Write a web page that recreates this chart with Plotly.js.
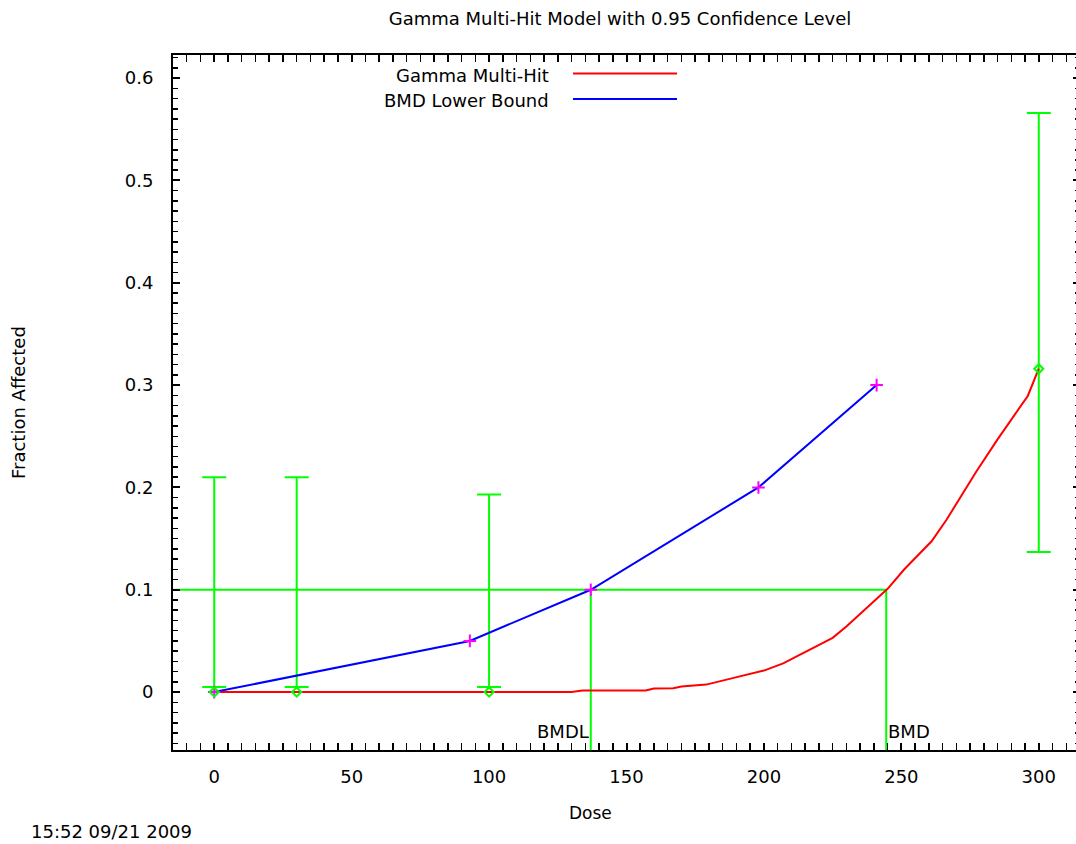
<!DOCTYPE html>
<html>
<head>
<meta charset="utf-8">
<script src="https://cdn.plot.ly/plotly-3.0.1.min.js"></script>
<style>
html,body{margin:0;padding:0;overflow:hidden;background:#fff;}
#chart{width:1082px;height:844px;}
</style>
</head>
<body>
<div id="chart"></div>
<script>
// ---- data ----
const modelDose = [0, 130, 134, 157, 160, 167, 170, 179, 189, 200, 207, 218, 225, 230, 234, 245, 251, 257, 261, 266.5, 271, 277, 285, 291, 296, 300];
const modelFrac = [0, 0, 0.0015, 0.0015, 0.0034, 0.0037, 0.0054, 0.0073, 0.0139, 0.021, 0.028, 0.043, 0.053, 0.064, 0.074, 0.1009, 0.1198, 0.1361, 0.1474, 0.1687, 0.1883, 0.2144, 0.247, 0.2698, 0.2894, 0.316];

const lowerDose = [0, 93, 137, 198, 241];
const lowerFrac = [0, 0.05, 0.1, 0.2, 0.3];

const obsDose = [0, 30, 100, 300];
const obsFrac = [0, 0, 0, 0.316];
const ciLow = [0.005, 0.005, 0.005, 0.137];
const ciHigh = [0.21, 0.21, 0.193, 0.566];

const bmr = 0.1;
const bmd = 244.5;
const bmdl = 137;

const xRange = [-15, 315];
const yRange = [-0.0566, 0.6226];
const xTickStep = 50;
const xMinorStep = 5;
const yTickStep = 0.1;
const yMinorStep = 0.01;

const titleText = 'Gamma Multi-Hit Model with 0.95 Confidence Level';
const legendNames = ['Gamma Multi-Hit', 'BMD Lower Bound'];
const legendColors = ['#ff0000', '#0000ff'];
const stamp = '15:52 09/21 2009';

// ---- traces ----
const GREEN = '#00ff00';
const FONT = 'DejaVu Sans';

const mid = ciLow.map((l, i) => (l + ciHigh[i]) / 2);
const half = ciLow.map((l, i) => (ciHigh[i] - l) / 2);

const traces = [
  {
    // invisible anchor so the minor-tick axis y2 gets drawn
    x: [xRange[0]], y: [yRange[0]], yaxis: 'y2', mode: 'markers',
    marker: {size: 1, color: 'rgba(0,0,0,0)'}, showlegend: false, hoverinfo: 'skip'
  },
  {
    x: [xRange[0], bmd, bmd], y: [bmr, bmr, yRange[0]],
    mode: 'lines', line: {color: GREEN, width: 2}, showlegend: false, hoverinfo: 'skip'
  },
  {
    x: [bmdl, bmdl], y: [bmr, yRange[0]],
    mode: 'lines', line: {color: GREEN, width: 2}, showlegend: false, hoverinfo: 'skip'
  },
  {
    x: obsDose, y: mid, mode: 'markers',
    marker: {size: 1, color: 'rgba(0,0,0,0)'},
    error_y: {type: 'data', symmetric: true, array: half, color: GREEN, thickness: 2, width: 12},
    showlegend: false, hoverinfo: 'skip'
  },
  {
    x: modelDose, y: modelFrac, mode: 'lines', name: legendNames[0],
    line: {color: legendColors[0], width: 2}, showlegend: false
  },
  {
    x: lowerDose, y: lowerFrac, mode: 'lines+markers', name: legendNames[1],
    line: {color: legendColors[1], width: 2},
    marker: {symbol: 'cross-thin-open', size: 9, color: '#ff00ff', line: {color: '#ff00ff', width: 2}},
    showlegend: false
  },
  {
    x: obsDose, y: obsFrac, mode: 'markers',
    marker: {symbol: 'diamond-open', size: 7, color: GREEN, line: {color: GREEN, width: 2}},
    showlegend: false
  }
];

const pl = 173, pr = 1080, pt = 55, pb = 750;
const pw = pr - pl, ph = pb - pt;
const px = v => (v - pl) / pw;
const py = v => (pb - v) / ph;

const annotations = [
  {text: legendNames[0], xref: 'paper', yref: 'paper', x: px(551), y: py(75), xanchor: 'right', yanchor: 'middle', showarrow: false, font: {family: FONT, size: 18, color: '#000'}},
  {text: legendNames[1], xref: 'paper', yref: 'paper', x: px(551), y: py(100), xanchor: 'right', yanchor: 'middle', showarrow: false, font: {family: FONT, size: 18, color: '#000'}},
  {text: 'BMDL', xref: 'x', yref: 'paper', x: bmdl, y: py(731), xanchor: 'right', yanchor: 'middle', showarrow: false, font: {family: FONT, size: 18, color: '#000'}},
  {text: 'BMD', xref: 'x', yref: 'paper', x: bmd, y: py(731), xanchor: 'left', yanchor: 'middle', showarrow: false, font: {family: FONT, size: 18, color: '#000'}},
  {text: 'Dose', xref: 'paper', yref: 'paper', x: px(590), y: py(813), xanchor: 'center', yanchor: 'middle', showarrow: false, font: {family: FONT, size: 17, color: '#000'}},
  {text: 'Fraction Affected', xref: 'paper', yref: 'paper', x: px(19), y: py(403), xanchor: 'center', yanchor: 'middle', textangle: -90, showarrow: false, font: {family: FONT, size: 18, color: '#000'}},
  {text: stamp, xref: 'paper', yref: 'paper', x: px(29), y: py(831), xanchor: 'left', yanchor: 'middle', showarrow: false, font: {family: FONT, size: 18, color: '#000'}}
];

const shapes = [
  {type: 'line', xref: 'paper', yref: 'paper', x0: px(573), x1: px(677), y0: py(73.5), y1: py(73.5), line: {color: legendColors[0], width: 2}},
  {type: 'line', xref: 'paper', yref: 'paper', x0: px(573), x1: px(677), y0: py(99), y1: py(99), line: {color: legendColors[1], width: 2}}
];

const axisCommon = {
  showline: true, linecolor: '#000', linewidth: 2, mirror: 'allticks',
  ticks: 'inside', ticklen: 7, tickwidth: 2, tickcolor: '#000',
  showgrid: false, zeroline: false, tickmode: 'linear', tick0: 0,
  tickfont: {family: FONT, size: 18, color: '#000'}
};

const layout = {
  width: 1082, height: 844,
  margin: {l: pl, r: 1082 - pr, t: pt, b: 844 - pb, pad: 0},
  paper_bgcolor: '#fff', plot_bgcolor: '#fff',
  showlegend: false,
  title: {text: titleText, x: px(620), xref: 'paper', xanchor: 'center', y: 1 - 19 / 844, yref: 'container', yanchor: 'middle', font: {family: FONT, size: 18, color: '#000'}},
  xaxis: Object.assign({}, axisCommon, {
    range: xRange, dtick: xTickStep, ticklabelstandoff: 9,
    minor: {tickmode: 'linear', tick0: 0, dtick: xMinorStep, ticks: 'inside', ticklen: 4, tickwidth: 1.5, tickcolor: '#000', showgrid: false}
  }),
  yaxis: Object.assign({}, axisCommon, {
    range: yRange, dtick: yTickStep, ticklabelstandoff: 14
  }),
  // minor ticks for the y axis, drawn on an overlaid axis with the same range
  yaxis2: {
    overlaying: 'y', side: 'left', range: yRange, tickmode: 'linear', tick0: 0, dtick: yMinorStep,
    ticks: 'inside', ticklen: 5, tickwidth: 1.5, tickcolor: '#000',
    showticklabels: false, showline: true, linecolor: '#000', linewidth: 2,
    showgrid: false, zeroline: false, mirror: 'allticks'
  },
  annotations: annotations,
  shapes: shapes
};

Plotly.newPlot('chart', traces, layout, {staticPlot: true, displayModeBar: false});
</script>
</body>
</html>
